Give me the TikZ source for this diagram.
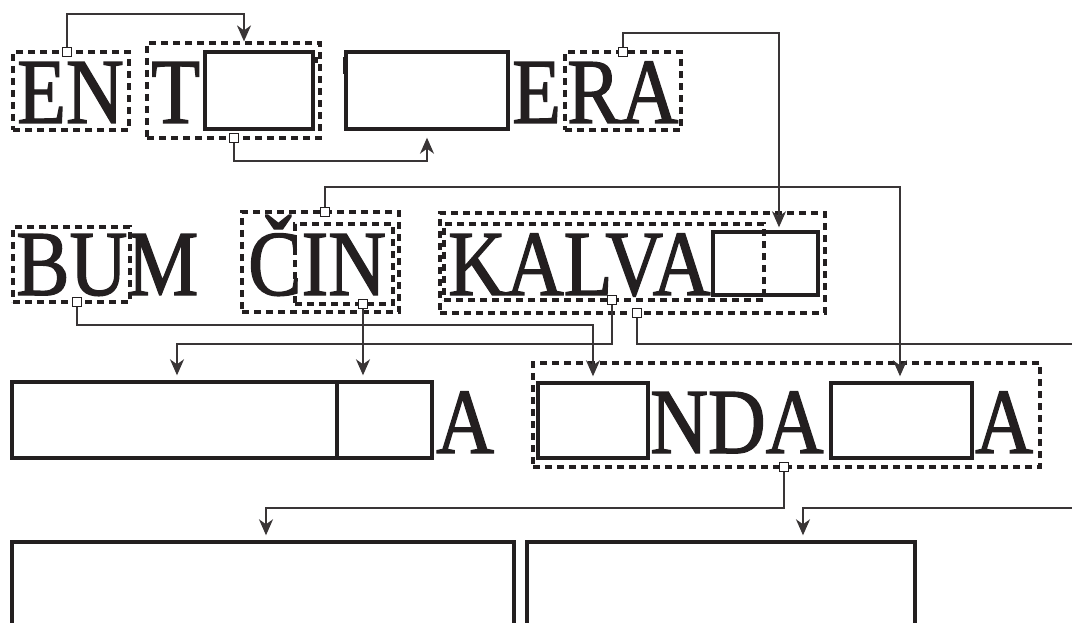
\documentclass[tikz,border=0pt]{standalone}
\usepackage{fontspec}
\setmainfont{Liberation Serif}[FakeStretch=0.86, FakeBold=1.4]
\usetikzlibrary{arrows.meta,fit}
\definecolor{ink}{RGB}{35,31,32}
\newcommand\wordfont{\fontsize{93}{93}\selectfont}
\tikzset{
  dbox/.style={draw=ink, line width=3.2pt, dash pattern=on 7pt off 5pt, inner sep=0pt},
  sbox/.style={draw=ink, line width=3.4pt, inner sep=0pt},
  word/.style={inner sep=0pt, anchor=base west, font=\wordfont, text=ink},
  port/.style={draw=ink, fill=white, line width=1.2pt, minimum size=9pt, inner sep=0pt},
  wire/.style={draw=ink!90, line width=1.8pt},
  link/.style={wire, -{Stealth[length=16pt,width=14pt,inset=5pt]}}
}
\begin{document}
\begin{tikzpicture}[x=1pt, y=-1pt]
    \useasboundingbox (0,0) rectangle (1072,623);
    % row 1
    \node[word] (tEN) at (17,123) {EN};
    \node[word] (tT) at (151,123) {T};
    \node[word] (tE) at (512,123) {E};
    \node[word] (tRA) at (567,123) {RA};
    \fill[ink] (314,57) rectangle (318,63);
    \fill[ink] (343,57) rectangle (347,74);
    \node[sbox, fill=white, fit={(205,52) (313,129)}] (bT) {};
    \node[sbox, fill=white, fit={(346,52) (508,129)}] (bTwo) {};
    \node[dbox, fit={(13,52) (129,130)}] (dEN) {};
    \node[dbox, fit={(147,43) (320,138)}] (dT) {};
    \node[dbox, fit={(565,52) (681,130)}] (dRA) {};
    % row 2
    \node[word] (tBUM) at (16,295) {BUM};
    \node[word] (tCIN) at (248,295) {ČIN};
    \node[word] (tKALVA) at (448,295) {KALVA};
    \node[sbox, fill=white, fit={(713,232) (818,295)}] (bK) {};
    \node[dbox, fit={(13,227) (130,302)}] (dBU) {};
    \node[dbox, fit={(242,212) (399,312)}] (dCIN) {};
    \node[dbox, fit={(295,224) (393,304)}] (dIN) {};
    \node[dbox, fit={(440,213) (825,313)}] (dKAL) {};
    \node[dbox, fit={(444,224) (764,300)}] (dKALVA) {};
    % row 3
    \node[sbox, fit={(12,382) (337,458)}] (bLong) {};
    \node[sbox, fit={(337,382) (432,458)}] (bShort) {};
    \node[word] (tA) at (436,453) {A};
    \node[sbox, fit={(538,383) (648,458)}] (bN1) {};
    \node[word] (tNDA) at (650,453) {NDA};
    \node[sbox, fill=white, fit={(831,383) (972,458)}] (bN2) {};
    \node[word] (tA2) at (975,453) {A};
    \node[dbox, fit={(533,363) (1040,467)}] (dNDA) {};
    % row 4
    \node[sbox, fit={(12,542) (514,660)}] (bBL) {};
    \node[sbox, fit={(527,542) (915,660)}] (bBR) {};
    % ports
    \node[port] (pEN) at (67,52) {};
    \node[port] (pT) at (234,138) {};
    \node[port] (pRA) at (623,52) {};
    \node[port] (pBU) at (77,302) {};
    \node[port] (pCIN) at (325,212) {};
    \node[port] (pIN) at (363,304) {};
    \node[port] (pKV) at (612,300) {};
    \node[port] (pKAL) at (637,313) {};
    \node[port] (pNDA) at (784,467) {};
    % bends and free ends
    \coordinate (kEN) at (244,14);
    \coordinate (kT) at (427,161);
    \coordinate (kRA) at (779,33);
    \coordinate (kBU) at (593,325);
    \coordinate (kCIN) at (900,187);
    \coordinate (kKV) at (177,344);
    \coordinate (eastA) at (1072,344);
    \coordinate (kNDA) at (266,508);
    \coordinate (eastB) at (1072,508);
    \coordinate (kB) at (803,508);
    % connectors
    \draw[link] (pEN.north) |- (kEN) -- (kEN |- dT.north);
    \draw[link, shorten >=7pt] (pT.south) |- (kT) -- (kT |- bTwo.south);
    \draw[link, shorten >=3pt] (pRA.north) |- (kRA) -- (kRA |- bK.north);
    \draw[link, shorten >=5pt] (pBU.south) |- (kBU) -- (kBU |- bN1.north);
    \draw[link, shorten >=5pt] (pCIN.north) |- (kCIN) -- (kCIN |- bN2.north);
    \draw[link, shorten >=5pt] (pIN.south) -- (pIN |- bShort.north);
    \draw[link, shorten >=5pt] (pKV.south) |- (kKV) -- (kKV |- bLong.north);
    \draw[wire] (pKAL.south) |- (eastA);
    \draw[link, shorten >=5pt] (pNDA.south) |- (kNDA) -- (kNDA |- bBL.north);
    \draw[link, shorten >=5pt] (eastB) -- (kB) -- (kB |- bBR.north);
\end{tikzpicture}
\end{document}
